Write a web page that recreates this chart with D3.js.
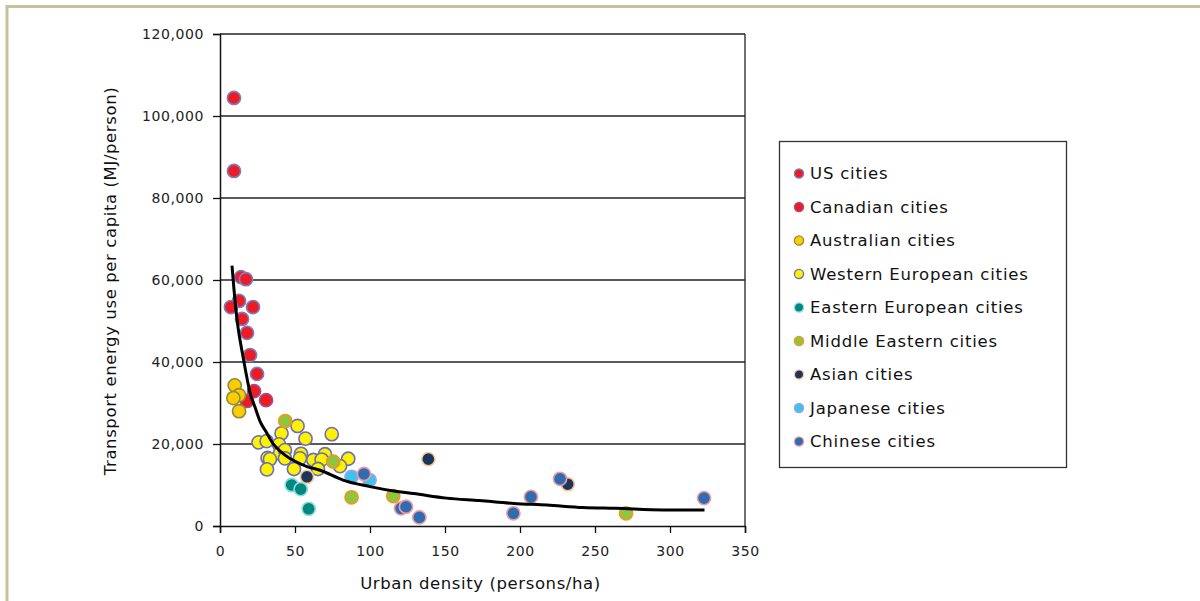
<!DOCTYPE html>
<html><head><meta charset="utf-8">
<script src="https://cdn.jsdelivr.net/npm/d3@7"></script>
<style>
html,body{margin:0;padding:0;background:#fff;}
svg{display:block;font-family:"DejaVu Sans",sans-serif;}
</style></head>
<body><svg id="c" width="1200" height="601"></svg>
<script>
// ---- data ----
const seriesNames = ["US cities","Canadian cities","Australian cities","Western European cities","Eastern European cities","Middle Eastern cities","Asian cities","Japanese cities","Chinese cities"];
const seriesFill = ["#ed1c24","#ed1c24","#ffcc00","#fff200","#00877f","#8dc63f","#1b365d","#3cc4f0","#2e6db4"];
const seriesStroke = ["#7a7fc0","#a0508f","#8c8c3c","#6b6fb5","#8fdcd8","#f7941d","#f9c89b","#a3a3dc","#f39a9a"];

const usX = [9.3,9.3,14,17.3,12.7,7.3,22,14.7,18,20,24.7];
const usY = [104400,86600,60700,60200,54900,53400,53400,50500,47100,41700,37100];
const canX = [22.7,30.7,18];
const canY = [32900,30700,30500];
const ausX = [9.8,12.7,8.9,12.7];
const ausY = [34300,31900,31200,28000];
const weX = [51.7,41,74.5,57,25.7,31.1,39.3,40,43.3,54,53.3,70,31.7,33.3,43.3,62.2,67.8,85.5,80,49.3,31.3,65.3];
const weY = [24400,22600,22400,21300,20400,20700,19900,17700,18500,17600,16500,17500,16600,16300,16500,16100,16200,16400,14600,13900,13800,13900];
const eeX = [47.8,53.8,59.1];
const eeY = [10000,9000,4200];
const meX = [43.5,75.5,87.7,115.5,270.7];
const meY = [25600,15700,7000,7300,3100];
const asX = [58,138.9,231.8];
const asY = [12000,16300,10200];
const jpX = [87.7,99.7];
const jpY = [12000,11200];
const cnX = [96,120.7,124,132.9,195.6,207.3,226.7,322.7];
const cnY = [12700,4300,4700,2100,3100,7100,11500,6800];

const trendX = [8,10,12,14.5,17,20,23.3,26.7,31,34.4,43.3,50,58,66.7,82,100,118,129,151,173,196,218,242,264,296,323];
const trendY = [63500,55000,48500,43000,38000,32500,29000,25500,22800,20600,17300,15800,14500,13600,11200,9600,8400,7900,6800,6200,5500,5100,4500,4300,3900,3900];

const xTicks = [0,50,100,150,200,250,300,350];
const yTicks = [0,20000,40000,60000,80000,100000,120000];

const seriesX = [usX,canX,ausX,weX,eeX,meX,asX,jpX,cnX];
const seriesY = [usY,canY,ausY,weY,eeY,meY,asY,jpY,cnY];

// ---- drawing ----
const svg = d3.select("#c");
const L = 220, R = 745, T = 34, B = 526;
const x = d3.scaleLinear().domain([0,350]).range([L,R]);
const y = d3.scaleLinear().domain([0,120000]).range([B,T]);

// outer frame
svg.append("path").attr("d","M7,601 V6.5 H1200")
  .attr("fill","none").attr("stroke","#c8c29b").attr("stroke-width",3);

// gridlines
svg.append("g").selectAll("line").data(yTicks.filter(d=>d>0)).join("line")
  .attr("x1",L).attr("x2",R).attr("y1",d=>y(d)).attr("y2",d=>y(d))
  .attr("stroke","#222").attr("stroke-width",1.3);
// right border
svg.append("line").attr("x1",R).attr("x2",R).attr("y1",T).attr("y2",B)
  .attr("stroke","#222").attr("stroke-width",1.3);

const fmt = d3.format(",");
const yAxis = svg.append("g").attr("transform",`translate(${L},0)`)
  .call(d3.axisLeft(y).tickValues(yTicks).tickFormat(fmt).tickSize(7).tickPadding(9));
const xAxis = svg.append("g").attr("transform",`translate(0,${B})`)
  .call(d3.axisBottom(x).tickValues(xTicks).tickSize(7).tickPadding(13));
[yAxis,xAxis].forEach(a=>{
  a.select(".domain").attr("stroke","#111").attr("stroke-width",1.5);
  a.selectAll(".tick line").attr("stroke","#111").attr("stroke-width",1.3);
  a.selectAll("text").attr("font-size",14).attr("fill","#222")
    .attr("font-family","DejaVu Sans, sans-serif").attr("letter-spacing","0.6px");
});

// points
seriesNames.forEach((name,i)=>{
  const pts = seriesX[i].map((v,j)=>[v,seriesY[i][j]]);
  svg.append("g").selectAll("circle").data(pts).join("circle")
    .attr("cx",d=>x(d[0])).attr("cy",d=>y(d[1])).attr("r",6.6)
    .attr("fill",seriesFill[i]).attr("stroke",seriesStroke[i]).attr("stroke-width",1.6);
});

// trend line
const trend = trendX.map((v,j)=>[v,trendY[j]]);
svg.append("path").datum(trend)
  .attr("d",d3.line().x(d=>x(d[0])).y(d=>y(d[1])).curve(d3.curveMonotoneX))
  .attr("fill","none").attr("stroke","#000").attr("stroke-width",3);

// axis titles
svg.append("text").attr("x",(L+R)/2-2).attr("y",589).attr("text-anchor","middle")
  .attr("font-size",16.5).attr("fill","#111").attr("letter-spacing","0.6px")
  .text("Urban density (persons/ha)");
svg.append("text").attr("transform",`translate(116,281) rotate(-90)`).attr("text-anchor","middle")
  .attr("font-size",16.5).attr("fill","#111").attr("letter-spacing","0.6px")
  .text("Transport energy use per capita (MJ/person)");

// legend
const lg = svg.append("g");
lg.append("rect").attr("x",779.5).attr("y",141.5).attr("width",287).attr("height",326)
  .attr("fill","#fff").attr("stroke","#333").attr("stroke-width",1.3);
const rowY = d3.scalePoint().domain(seriesNames).range([173.5,441.5]);
const rows = lg.selectAll("g.row").data(seriesNames).join("g").attr("class","row")
  .attr("transform",d=>`translate(0,${rowY(d)})`);
rows.append("circle").attr("cx",799).attr("cy",0).attr("r",4.6)
  .attr("fill",(d,i)=>seriesFill[i]).attr("stroke",(d,i)=>seriesStroke[i]).attr("stroke-width",1.3);
rows.append("text").attr("x",810).attr("y",0).attr("dy","0.36em")
  .attr("font-size",16.5).attr("fill","#111").attr("letter-spacing","0.8px").text(d=>d);
</script></body></html>
